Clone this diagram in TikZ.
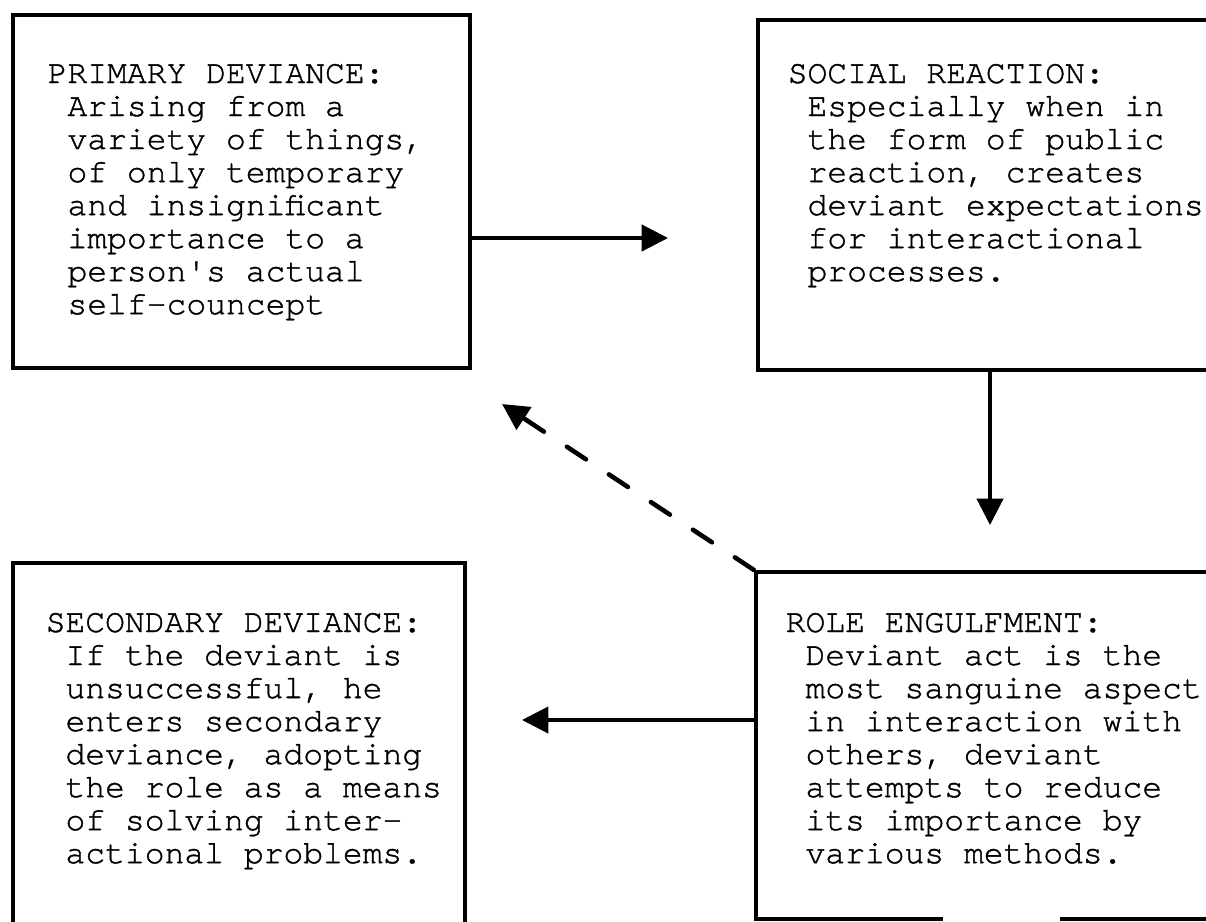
\documentclass[tikz,border=0pt]{standalone}
\usepackage{fontspec}
\newfontfamily\tw[FakeBold=1.2]{TeX Gyre Cursor}
\usetikzlibrary{arrows.meta}
\newcommand\ind{\hspace*{0.6em}}
\begin{document}
\begin{tikzpicture}[x=0.01cm,y=-0.01cm,
  box/.style={draw, line width=1.1pt, inner sep=0pt, rectangle},
  txt/.style={anchor=base west, inner sep=0pt, font=\tw\fontsize{9.39pt}{9.39pt}\selectfont},
  arr/.style={line width=0.9pt, -{Triangle[length=7.5pt,width=7.5pt]}},
  dasharr/.style={line width=1.3pt, line cap=round, dash pattern=on 6.5pt off 7.8pt, -{Triangle[length=7.5pt,width=7.5pt]}}]
\useasboundingbox (0,0) rectangle (1206,921);
\clip (0,0) rectangle (1206,921);
% boxes
\node[box, minimum width=4.57cm, minimum height=3.53cm] (p) at (241.5,191.5) {};
\node[box, minimum width=4.82cm, minimum height=3.5cm] (s) at (999,195) {};
\node[box, minimum width=4.52cm, minimum height=3.97cm] (sd) at (239,761.5) {};
\node[box, minimum width=4.84cm, minimum height=3.47cm] (r) at (998,745.5) {};
\draw[white, line width=2pt] (943,919) -- (1060,919);
% texts
\node[txt] (tp) at (47,83) {\begin{tabular}[t]{@{}l@{}}PRIMARY DEVIANCE:\\
\ind Arising from a\\
\ind variety of things,\\
\ind of only temporary\\
\ind and insignificant\\
\ind importance to a\\
\ind person\textquotesingle s actual\\
\ind self-councept\end{tabular}};
\node[txt] (ts) at (787,83) {\begin{tabular}[t]{@{}l@{}}SOCIAL REACTION:\\
\ind Especially when in\\
\ind the form of public\\
\ind reaction, creates\\
\ind deviant expectations\\
\ind for interactional\\
\ind processes.\end{tabular}};
\node[txt] (tsd) at (45,632) {\begin{tabular}[t]{@{}l@{}}SECONDARY DEVIANCE:\\
\ind If the deviant is\\
\ind unsuccessful, he\\
\ind enters secondary\\
\ind deviance, adopting\\
\ind the role as a means\\
\ind of solving inter-\\
\ind actional problems.\end{tabular}};
\node[txt] (tr) at (785,632) {\begin{tabular}[t]{@{}l@{}}ROLE ENGULFMENT:\\
\ind Deviant act is the\\
\ind most sanguine aspect\\
\ind in interaction with\\
\ind others, deviant\\
\ind attempts to reduce\\
\ind its importance by\\
\ind various methods.\end{tabular}};
% connectors
\coordinate (a1) at (668,238);
\coordinate (a2) at (990,525);
\coordinate (a3) at (522,720);
\coordinate (a4) at (502,404);
\draw[arr] (p.east |- a1) -- (a1);
\draw[arr] (s.south -| a2) -- (a2);
\draw[arr] (r.west |- a3) -- (a3);
\draw[dasharr] (r.north west) -- (a4);
\end{tikzpicture}
\end{document}
